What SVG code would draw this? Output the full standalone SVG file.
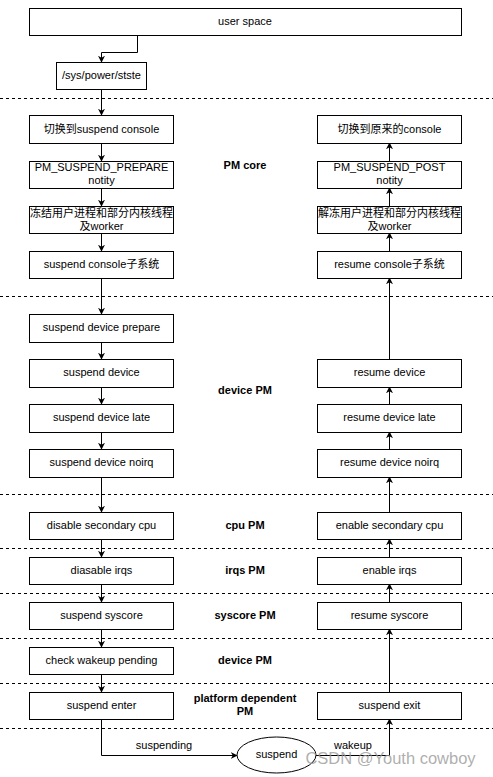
<svg xmlns="http://www.w3.org/2000/svg" width="493" height="777" viewBox="0 0 493 777">
<style>
.b{fill:#fff;stroke:#000;stroke-width:1}
.t{font-family:"Liberation Sans","Noto Sans CJK SC",sans-serif;font-size:11px;text-anchor:middle;fill:#000}
.l{font-family:"Liberation Sans",sans-serif;font-size:11px;font-weight:bold;text-anchor:middle;fill:#000}
.d{stroke:#000;stroke-width:1;stroke-dasharray:3 3;fill:none}
.c{stroke:#000;stroke-width:1;fill:none;marker-end:url(#a)}
</style>
<defs>
<marker id="a" viewBox="0 0 10 10" refX="9" refY="5" markerWidth="7" markerHeight="7" markerUnits="userSpaceOnUse" orient="auto">
<path d="M0,0 L10,5 L0,10 L3,5 Z" fill="#000"/>
</marker>
</defs>
<rect width="493" height="777" fill="#fff"/>
<g id="separators">
<line class="d" x1="0" y1="98.5" x2="493" y2="98.5"/>
<line class="d" x1="0" y1="296.5" x2="493" y2="296.5"/>
<line class="d" x1="0" y1="494.5" x2="493" y2="494.5"/>
<line class="d" x1="0" y1="548.5" x2="493" y2="548.5"/>
<line class="d" x1="0" y1="593.5" x2="493" y2="593.5"/>
<line class="d" x1="0" y1="638.5" x2="493" y2="638.5"/>
<line class="d" x1="0" y1="683.5" x2="493" y2="683.5"/>
<line class="d" x1="0" y1="728.5" x2="493" y2="728.5"/>
</g>
<g id="connectors">
<path class="c" d="M137.5,35 V52.5 H101.5 V62"/>
<path class="c" d="M101.5,89 V115"/>
<path class="c" d="M101.5,143 V161"/>
<path class="c" d="M101.5,188 V206"/>
<path class="c" d="M101.5,233 V251"/>
<path class="c" d="M101.5,278 V314"/>
<path class="c" d="M101.5,342 V359"/>
<path class="c" d="M101.5,387 V404"/>
<path class="c" d="M101.5,432 V449"/>
<path class="c" d="M101.5,477 V512"/>
<path class="c" d="M101.5,539 V557"/>
<path class="c" d="M101.5,584 V602"/>
<path class="c" d="M101.5,629 V647"/>
<path class="c" d="M101.5,674 V692"/>
<path class="c" d="M101.5,719 V755.5 H237"/>
<path class="c" d="M316,755.5 H389.5 V719"/>
<path class="c" d="M389.5,692 V629"/>
<path class="c" d="M389.5,602 V584"/>
<path class="c" d="M389.5,557 V539"/>
<path class="c" d="M389.5,512 V477"/>
<path class="c" d="M389.5,449 V432"/>
<path class="c" d="M389.5,404 V387"/>
<path class="c" d="M389.5,359 V278"/>
<path class="c" d="M389.5,251 V233"/>
<path class="c" d="M389.5,206 V188"/>
<path class="c" d="M389.5,161 V143"/>
<text class="t" x="164" y="749">suspending</text>
<text class="t" x="353" y="749">wakeup</text>
</g>
<g id="user-space"><rect class="b" x="29.5" y="8.5" width="432" height="27"/><text class="t" x="245" y="25">user space</text></g>
<g id="sys-power"><rect class="b" x="56.5" y="62.5" width="90" height="27"/><text class="t" x="101.5" y="79">/sys/power/stste</text></g>
<g id="switch-console"><rect class="b" x="29.5" y="115.5" width="144" height="28"/><text class="t" x="101.5" y="132.5">切换到suspend console</text></g>
<g id="pm-prepare"><rect class="b" x="29.5" y="161.5" width="144" height="27"/><text class="t" x="101.5" y="171">PM_SUSPEND_PREPARE</text><text class="t" x="101.5" y="184">notity</text></g>
<g id="freeze"><rect class="b" x="29.5" y="206.5" width="144" height="27"/><text class="t" x="101.5" y="217">冻结用户进程和部分内核线程</text><text class="t" x="101.5" y="229.5">及worker</text></g>
<g id="suspend-console"><rect class="b" x="29.5" y="251.5" width="144" height="27"/><text class="t" x="101.5" y="268">suspend console子系统</text></g>
<g id="dev-prepare"><rect class="b" x="29.5" y="314.5" width="144" height="28"/><text class="t" x="101.5" y="331">suspend device prepare</text></g>
<g id="dev-suspend"><rect class="b" x="29.5" y="359.5" width="144" height="28"/><text class="t" x="101.5" y="376">suspend device</text></g>
<g id="dev-late"><rect class="b" x="29.5" y="404.5" width="144" height="28"/><text class="t" x="101.5" y="421">suspend device late</text></g>
<g id="dev-noirq"><rect class="b" x="29.5" y="449.5" width="144" height="28"/><text class="t" x="101.5" y="466">suspend device noirq</text></g>
<g id="disable-cpu"><rect class="b" x="29.5" y="512.5" width="144" height="27"/><text class="t" x="101.5" y="529">disable secondary cpu</text></g>
<g id="disable-irqs"><rect class="b" x="29.5" y="557.5" width="144" height="27"/><text class="t" x="101.5" y="574">diasable irqs</text></g>
<g id="suspend-syscore"><rect class="b" x="29.5" y="602.5" width="144" height="27"/><text class="t" x="101.5" y="619">suspend syscore</text></g>
<g id="check-wakeup"><rect class="b" x="29.5" y="647.5" width="144" height="27"/><text class="t" x="101.5" y="664">check wakeup pending</text></g>
<g id="suspend-enter"><rect class="b" x="29.5" y="692.5" width="144" height="27"/><text class="t" x="101.5" y="709">suspend enter</text></g>
<g id="suspend-state"><ellipse class="b" cx="276.5" cy="755" rx="39.5" ry="18"/><text class="t" x="276.5" y="758">suspend</text></g>
<g id="restore-console"><rect class="b" x="317.5" y="115.5" width="144" height="28"/><text class="t" x="389.5" y="132.5">切换到原来的console</text></g>
<g id="pm-post"><rect class="b" x="317.5" y="161.5" width="144" height="27"/><text class="t" x="389.5" y="171">PM_SUSPEND_POST</text><text class="t" x="389.5" y="184">notity</text></g>
<g id="thaw"><rect class="b" x="317.5" y="206.5" width="144" height="27"/><text class="t" x="389.5" y="217">解冻用户进程和部分内核线程</text><text class="t" x="389.5" y="229.5">及worker</text></g>
<g id="resume-console"><rect class="b" x="317.5" y="251.5" width="144" height="27"/><text class="t" x="389.5" y="268">resume console子系统</text></g>
<g id="resume-device"><rect class="b" x="317.5" y="359.5" width="144" height="28"/><text class="t" x="389.5" y="376">resume device</text></g>
<g id="resume-late"><rect class="b" x="317.5" y="404.5" width="144" height="28"/><text class="t" x="389.5" y="421">resume device late</text></g>
<g id="resume-noirq"><rect class="b" x="317.5" y="449.5" width="144" height="28"/><text class="t" x="389.5" y="466">resume device noirq</text></g>
<g id="enable-cpu"><rect class="b" x="317.5" y="512.5" width="144" height="27"/><text class="t" x="389.5" y="529">enable secondary cpu</text></g>
<g id="enable-irqs"><rect class="b" x="317.5" y="557.5" width="144" height="27"/><text class="t" x="389.5" y="574">enable irqs</text></g>
<g id="resume-syscore"><rect class="b" x="317.5" y="602.5" width="144" height="27"/><text class="t" x="389.5" y="619">resume syscore</text></g>
<g id="suspend-exit"><rect class="b" x="317.5" y="692.5" width="144" height="27"/><text class="t" x="389.5" y="709">suspend exit</text></g>
<g id="layer-labels">
<text class="l" x="245" y="169">PM core</text>
<text class="l" x="245" y="394">device PM</text>
<text class="l" x="245" y="529">cpu PM</text>
<text class="l" x="245" y="574">irqs PM</text>
<text class="l" x="245" y="619">syscore PM</text>
<text class="l" x="245" y="664">device PM</text>
<text class="l" x="245" y="702">platform dependent</text>
<text class="l" x="245" y="715">PM</text>
</g>
<text x="390.5" y="764" font-family="Liberation Sans, sans-serif" font-size="16.5" fill="#999" fill-opacity="0.8" text-anchor="middle">CSDN @Youth cowboy</text>
</svg>
